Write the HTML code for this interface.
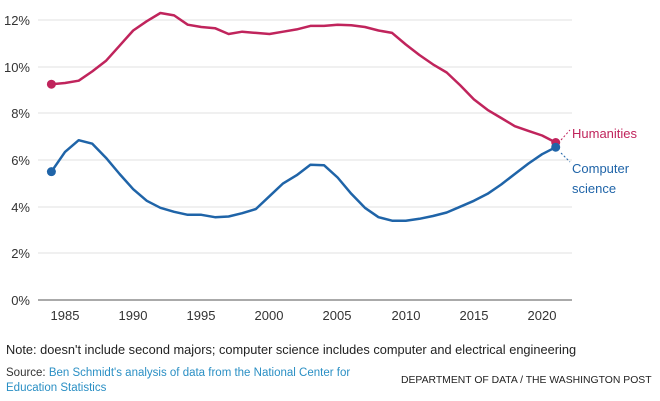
<!DOCTYPE html>
<html><head><meta charset="utf-8"><style>
body{margin:0;background:#fff;width:660px;height:401px;overflow:hidden;font-family:"Liberation Sans",sans-serif;}
svg{position:absolute;left:0;top:0}
.t{position:absolute;white-space:nowrap}
</style></head><body>
<svg width="660" height="401" id="s" font-family="Liberation Sans, sans-serif">
<g stroke="#e2e2e2" stroke-width="1">
<line x1="38" x2="572" y1="20" y2="20"/><line x1="38" x2="572" y1="67" y2="67"/>
<line x1="38" x2="572" y1="113" y2="113"/><line x1="38" x2="572" y1="160" y2="160"/>
<line x1="38" x2="572" y1="207" y2="207"/><line x1="38" x2="572" y1="253" y2="253"/>
</g>
<line x1="38" x2="572" y1="300" y2="300" stroke="#555" stroke-width="1"/>
<g font-size="13" fill="#333" text-anchor="end">
<text x="30" y="25">12%</text><text x="30" y="72">10%</text><text x="30" y="118">8%</text>
<text x="30" y="165">6%</text><text x="30" y="212">4%</text><text x="30" y="258">2%</text><text x="30" y="305">0%</text>
</g>
<g font-size="13" fill="#333" text-anchor="middle">
<text x="65" y="320">1985</text><text x="133" y="320">1990</text><text x="201" y="320">1995</text>
<text x="269" y="320">2000</text><text x="337" y="320">2005</text><text x="406" y="320">2010</text>
<text x="474" y="320">2015</text><text x="542" y="320">2020</text>
</g>
<line x1="561" y1="140" x2="570" y2="130" stroke="#c0245c" stroke-dasharray="2,2"/>
<line x1="561" y1="153" x2="570" y2="162" stroke="#1f64a8" stroke-dasharray="2,2"/>
<text x="572" y="138" font-size="13" fill="#c0245c">Humanities</text>
<text x="572" y="173" font-size="13" fill="#1f64a8">Computer</text>
<text x="572" y="193" font-size="13" fill="#1f64a8">science</text>
</svg>
<div class="t" style="left:6px;top:342px;font-size:12.8px;color:#222">Note: doesn't include second majors; computer science includes computer and electrical engineering</div>
<div class="t" style="left:6px;top:366px;font-size:11.5px;color:#333;line-height:15px">Source: <span style="color:#2a8fc4">Ben Schmidt's analysis of data from the National Center for<br>Education Statistics</span></div>
<div class="t" style="left:401px;top:375px;font-size:10.4px;color:#222">DEPARTMENT OF DATA / THE WASHINGTON POST</div>
<script>
var H=[9.25,9.3,9.4,9.8,10.25,10.9,11.55,11.95,12.3,12.2,11.8,11.7,11.65,11.4,11.5,11.45,11.4,11.5,11.6,11.75,11.75,11.8,11.78,11.7,11.55,11.45,10.95,10.5,10.1,9.75,9.2,8.6,8.15,7.8,7.45,7.25,7.05,6.75];
var C=[5.5,6.35,6.85,6.7,6.1,5.4,4.75,4.25,3.95,3.78,3.65,3.65,3.55,3.58,3.72,3.9,4.45,5.0,5.35,5.8,5.78,5.25,4.55,3.95,3.55,3.4,3.4,3.48,3.6,3.75,4.0,4.25,4.55,4.95,5.4,5.85,6.25,6.55];
var s=document.getElementById('s'),ns='http://www.w3.org/2000/svg';
function X(i){return 51.4+i*13.63}function Y(v){return 300-v*23.33}
function draw(d,c){var p=d.map(function(v,i){return X(i).toFixed(1)+','+Y(v).toFixed(1)}).join(' ');
var l=document.createElementNS(ns,'polyline');l.setAttribute('points',p);l.setAttribute('fill','none');l.setAttribute('stroke',c);l.setAttribute('stroke-width','2.5');l.setAttribute('stroke-linejoin','round');s.appendChild(l);
[0,d.length-1].forEach(function(i){var e=document.createElementNS(ns,'circle');e.setAttribute('cx',X(i));e.setAttribute('cy',Y(d[i]));e.setAttribute('r','4.5');e.setAttribute('fill',c);s.appendChild(e);});}
draw(H,'#c0245c');draw(C,'#1f64a8');
</script>
</body></html>
